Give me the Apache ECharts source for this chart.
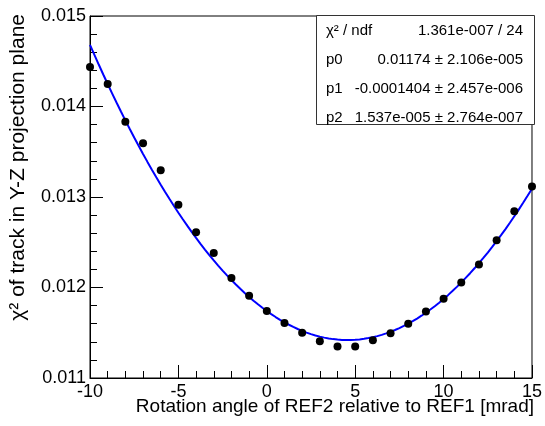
<!DOCTYPE html>
<html>
<head>
<meta charset="utf-8">
<script src="https://cdn.jsdelivr.net/npm/echarts@6/dist/echarts.min.js"></script>
<style>
  html, body { margin: 0; padding: 0; background: #fff; }
  #chart { width: 545px; height: 426px; }
</style>
</head>
<body>
<div id="chart"></div>
<script>
// Rotation angle of REF2 relative to REF1 [mrad]
const angles = [-10, -9, -8, -7, -6, -5, -4, -3, -2, -1, 0, 1, 2, 3, 4, 5, 6, 7, 8, 9, 10, 11, 12, 13, 14, 15];
// chi2 of the track in the Y-Z projection plane at each angle
const chi2 = [0.014436, 0.014249, 0.013832, 0.013593, 0.013295, 0.012915, 0.012611, 0.012380,
              0.012105, 0.011908, 0.011740, 0.011608, 0.011501, 0.011407, 0.011347, 0.011347,
              0.011418, 0.011494, 0.011600, 0.011736, 0.011875, 0.012055, 0.012253, 0.012523,
              0.012842, 0.013116];
// pol2 fit parameters p0, p1, p2 (as given in the statistics box)
const fitPars = [0.01174, -0.0001404, 1.537e-5];
const statNames = ['χ² / ndf', 'p0', 'p1', 'p2'];
const statTexts = ['1.361e-007 / 24', '0.01174 ± 2.106e-005', '-0.0001404 ± 2.457e-006', '1.537e-005 ± 2.764e-007'];
const yTicks = [0.011, 0.012, 0.013, 0.014, 0.015];

const FONT = "'Liberation Sans', Arial, Helvetica, sans-serif";

// fitted parabola evaluated across the x range
const fitCurve = [];
const nFit = 100;
for (let i = 0; i <= nFit; i++) {
  const x = angles[0] + (angles[angles.length - 1] - angles[0]) * i / nFit;
  fitCurve.push([x, fitPars[0] + fitPars[1] * x + fitPars[2] * x * x]);
}

const chart = echarts.init(document.getElementById('chart'), null, { renderer: 'canvas' });

// statistics box
const boxX = 316, boxY = 15, boxW = 219, boxH = 109;
const statGraphics = [{
  type: 'rect', z: 10,
  shape: { x: boxX + 0.5, y: boxY + 0.5, width: boxW - 1, height: boxH },
  style: { fill: '#fff', stroke: '#333', lineWidth: 1 }
}];
statNames.forEach((n, i) => {
  const cy = boxY + 16 + 29 * i;
  statGraphics.push({
    type: 'text', z: 11, x: 326, y: cy,
    style: { text: n, font: '15px ' + FONT, fill: '#000', align: 'left', verticalAlign: 'middle' }
  });
  statGraphics.push({
    type: 'text', z: 11, x: 523, y: cy,
    style: { text: statTexts[i], font: '15px ' + FONT, fill: '#000', align: 'right', verticalAlign: 'middle' }
  });
});

chart.setOption({
  animation: false,
  backgroundColor: '#fff',
  grid: { left: 90, right: 11, top: 16, bottom: 48, show: true, borderColor: '#000', borderWidth: 1, backgroundColor: 'transparent' },
  xAxis: {
    type: 'value', min: -10, max: 15, interval: 5,
    axisLine: { onZero: false, lineStyle: { color: '#000', width: 1 } },
    axisTick: { inside: true, length: 13, lineStyle: { color: '#000' } },
    minorTick: { show: true, splitNumber: 5, length: 7, lineStyle: { color: '#000' } },
    splitLine: { show: false },
    axisLabel: { color: '#000', fontFamily: FONT, fontSize: 18, margin: 5 }
  },
  yAxis: {
    type: 'value', min: yTicks[0], max: yTicks[yTicks.length - 1], interval: 0.001,
    axisLine: { show: true, onZero: false, lineStyle: { color: '#000', width: 1 } },
    axisTick: { show: true, inside: true, length: 13, lineStyle: { color: '#000' } },
    minorTick: { show: true, splitNumber: 5, length: 7, lineStyle: { color: '#000' } },
    splitLine: { show: false },
    axisLabel: { color: '#000', fontFamily: FONT, fontSize: 18, margin: 4, formatter: v => v.toFixed(3) }
  },
  graphic: [
    {
      type: 'text', x: 29, y: 14, rotation: Math.PI / 2,
      style: { text: 'χ² of track in Y-Z projection plane', font: '21px ' + FONT, fill: '#000', align: 'right', verticalAlign: 'bottom' }
    },
    {
      type: 'text', x: 534, y: 397,
      style: { text: 'Rotation angle of REF2 relative to REF1 [mrad]', font: '19px ' + FONT, fill: '#000', align: 'right', verticalAlign: 'top' }
    }
  ].concat(statGraphics),
  series: [
    {
      type: 'line', data: fitCurve, showSymbol: false, smooth: false,
      lineStyle: { color: '#0000ff', width: 2 }, z: 2
    },
    {
      type: 'scatter', data: angles.map((a, i) => [a, chi2[i]]),
      symbol: 'circle', symbolSize: 8, itemStyle: { color: '#000', opacity: 1 }, z: 3
    }
  ]
});
</script>
</body>
</html>
